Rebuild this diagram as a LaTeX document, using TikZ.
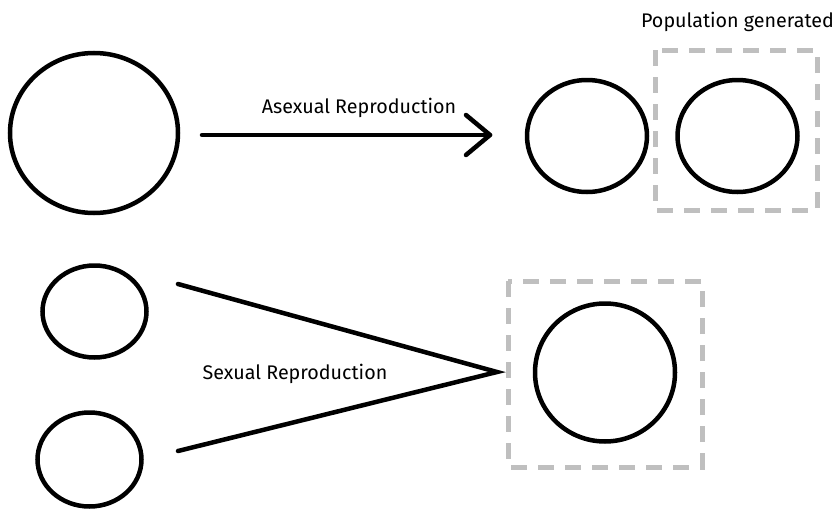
\documentclass[tikz,border=0pt]{standalone}
\usepackage{fontspec}
\setmainfont{Fira Sans}
\usetikzlibrary{shapes.geometric}
\begin{document}
\begin{tikzpicture}[x=1pt,y=-1pt,
  cell/.style={draw=black,line width=4.5pt,ellipse,inner sep=0pt},
  pbox/.style={draw=black!25,line width=5pt,dash pattern=on 16pt off 11pt},
  link/.style={draw=black,line width=4.5pt,line cap=round},
  lbl/.style={font=\fontsize{19.7}{22}\selectfont,text=black,inner sep=0pt}]
\useasboundingbox (0,0) rectangle (833,514);
% asexual
\node[cell,minimum width=168pt,minimum height=160pt] (p1) at (94,133) {};
\node[cell,minimum width=120pt,minimum height=112pt] (c1) at (587,136) {};
\node[cell,minimum width=120pt,minimum height=112pt] (c2) at (737.5,136) {};
\draw[pbox] (655,50) rectangle (817,210);
\node[lbl] (tp) at (737.5,22) {Population generated};
\coordinate (a0) at (202,135);
\coordinate (a1) at (490,135);
\draw[link] (a0) -- (a1);
\draw[link,line join=round] (466,115) -- (a1) -- (466,155);
\node[lbl] (ta) at (359,108) {Asexual Reproduction};
% sexual
\node[cell,minimum width=104pt,minimum height=92pt] (s1) at (94.5,311.5) {};
\node[cell,minimum width=104pt,minimum height=94pt] (s2) at (89.5,459.5) {};
\node[cell,minimum width=140pt,minimum height=138pt] (o) at (605,372.5) {};
\draw[pbox] (508,281) rectangle (702,467);
\coordinate (m) at (497,372);
\coordinate (l1) at (178,284);
\coordinate (l2) at (178,451);
\draw[link,line join=miter] (l1) -- (m) -- (l2);
\node[lbl] (ts) at (295,374) {Sexual Reproduction};
\end{tikzpicture}
\end{document}
